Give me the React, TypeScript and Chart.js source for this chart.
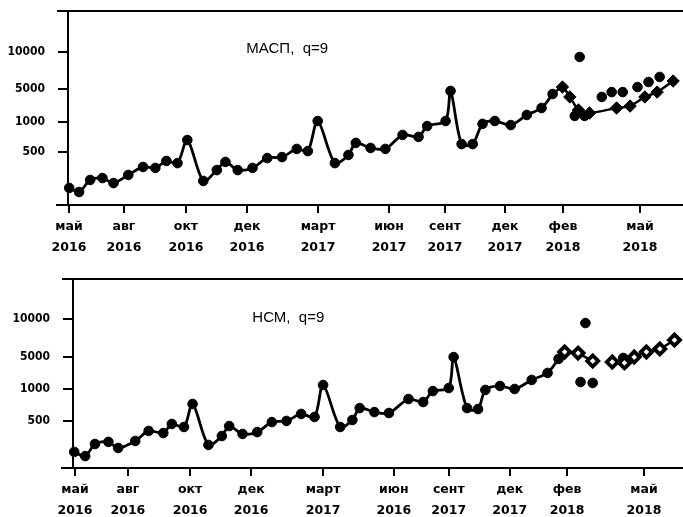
import React, { useEffect, useRef } from "react";
import { Chart, registerables } from "chart.js";

Chart.register(...registerables);

// ---------- axis tick labels ----------
const Y_TICK_LABELS = ["500", "1000", "5000", "10000"];
// positions of the (non-uniform) y tick labels in axis units (0 = x axis, 100 = top frame)
const TOP_Y_TICKS = [27.3, 42.8, 59.8, 78.9];
const BOTTOM_Y_TICKS = [24.9, 41.8, 58.7, 78.8];

const TOP_X_TICKS = [0.08, 4.55, 9.59, 14.55, 20.33, 26.1, 30.65, 35.53, 40.24, 46.5];
const TOP_X_LABELS = [
  ["май", "2016"], ["авг", "2016"], ["окт", "2016"], ["дек", "2016"], ["март", "2017"],
  ["июн", "2017"], ["сент", "2017"], ["дек", "2017"], ["фев", "2018"], ["май", "2018"],
];
const BOTTOM_X_TICKS = [0.16, 4.5, 9.6, 14.6, 20.5, 26.3, 30.8, 35.8, 40.5, 46.8];
const BOTTOM_X_LABELS = [
  ["май", "2016"], ["авг", "2016"], ["окт", "2016"], ["дек", "2016"], ["март", "2017"],
  ["июн", "2016"], ["сент", "2017"], ["дек", "2017"], ["фев", "2018"], ["май", "2018"],
];

const TOP_TITLE = "МАСП,  q=9";
const BOTTOM_TITLE = "НСМ,  q=9";

// ---------- top panel (МАСП) ----------
const TOP_FIT_X = [0.1, 0.9, 1.8, 2.8, 3.7, 4.9, 6.1, 7.1, 8.0, 8.9, 9.7, 11.0, 12.1, 12.8, 13.8, 15.0, 16.2, 17.4, 18.6, 19.5, 20.3, 21.7, 22.8, 23.4, 24.6, 25.8, 27.2, 28.5, 29.2, 30.7, 31.1, 32.0, 32.9, 33.7, 34.7, 36.0, 37.3, 38.5, 39.4];
const TOP_FIT_Y = [8.8, 6.7, 12.9, 13.9, 11.3, 15.5, 19.6, 19.1, 22.7, 21.6, 33.5, 12.4, 18.0, 22.2, 18.0, 19.1, 24.2, 24.7, 28.9, 27.8, 43.3, 21.6, 25.8, 32.0, 29.4, 28.9, 36.1, 35.1, 40.7, 43.3, 58.8, 31.4, 31.4, 41.8, 43.3, 41.2, 46.4, 50.0, 57.2];
const TOP_FORECAST_X = [40.2, 40.8, 41.5, 42.4, 44.6, 45.7, 46.9, 47.9, 49.2];
const TOP_FORECAST_Y = [60.8, 55.7, 49.0, 47.4, 50.0, 51.0, 55.7, 58.2, 63.9];
const TOP_ACTUAL_X = [41.2, 41.6, 42.0, 43.4, 44.2, 45.1, 46.3, 47.2, 48.1];
const TOP_ACTUAL_Y = [45.9, 76.3, 45.9, 55.7, 58.2, 58.2, 60.8, 63.4, 66.0];

// ---------- bottom panel (НСМ) ----------
const BOTTOM_FIT_X = [0.1, 1.0, 1.8, 2.9, 3.7, 5.1, 6.2, 7.4, 8.1, 9.1, 9.8, 11.1, 12.2, 12.8, 13.9, 15.1, 16.3, 17.5, 18.7, 19.8, 20.5, 21.9, 22.9, 23.5, 24.7, 25.9, 27.5, 28.7, 29.5, 30.8, 31.2, 32.3, 33.2, 33.8, 35.0, 36.2, 37.6, 38.9, 39.8];
const BOTTOM_FIT_Y = [8.5, 6.3, 12.7, 13.8, 10.6, 14.3, 19.6, 18.5, 23.3, 21.7, 33.9, 12.2, 16.9, 22.2, 18.0, 19.0, 24.3, 24.9, 28.6, 27.0, 43.9, 21.7, 25.4, 31.7, 29.6, 29.1, 36.5, 34.9, 40.7, 42.3, 58.7, 31.7, 31.2, 41.3, 43.4, 41.8, 46.6, 50.3, 57.7];
const BOTTOM_FORECAST_X = [40.3, 41.4, 42.6, 44.2, 45.2, 46.0, 47.0, 48.1, 49.3];
const BOTTOM_FORECAST_Y = [61.4, 60.8, 56.6, 56.1, 55.6, 58.7, 61.4, 63.0, 67.7];
const BOTTOM_ACTUAL_X = [41.6, 42.0, 42.6, 45.1];
const BOTTOM_ACTUAL_Y = [45.5, 76.7, 45.0, 58.2];

const zip = (xs: number[], ys: number[]) => xs.map((x, i) => ({ x, y: ys[i] }));

interface PanelProps {
  top: number;
  height: number;
  padTop: number;
  yAxisWidth: number;
  xAxisHeight: number;
  yTicks: number[];
  xTicks: number[];
  xLabels: string[][];
  title: string;
  titleX: number;
  titleY: number;
  fitX: number[];
  fitY: number[];
  fcX: number[];
  fcY: number[];
  actX: number[];
  actY: number[];
  hollow: boolean;
  gapAfter: number;
}

function Panel(p: PanelProps) {
  const ref = useRef<HTMLCanvasElement | null>(null);
  useEffect(() => {
    if (!ref.current) return;
    const fit = zip(p.fitX, p.fitY);
    const forecast = [fit[fit.length - 1], ...zip(p.fcX, p.fcY)];
    const actual = zip(p.actX, p.actY);

    const framePlugin = {
      id: "frame",
      afterDraw(chart: any) {
        const { ctx, chartArea } = chart;
        ctx.save();
        ctx.strokeStyle = "#000";
        ctx.lineWidth = 2;
        ctx.beginPath();
        ctx.moveTo(chartArea.left - 11, chartArea.top);
        ctx.lineTo(chartArea.right, chartArea.top);
        ctx.moveTo(chartArea.left - 12, chartArea.bottom);
        ctx.lineTo(chartArea.left, chartArea.bottom);
        ctx.stroke();
        ctx.fillStyle = "#000";
        ctx.font = "15px 'Liberation Sans', Arial, sans-serif";
        ctx.textBaseline = "middle";
        ctx.textAlign = "left";
        const x = chart.scales.x.getPixelForValue(p.titleX);
        const y = chart.scales.y.getPixelForValue(p.titleY);
        ctx.fillText(p.title, x, y);
        ctx.restore();
      },
    };

    const chart = new Chart(ref.current, {
      type: "line",
      data: {
        datasets: [
          {
            data: fit,
            borderColor: "#000",
            backgroundColor: "#000",
            borderWidth: 2.8,
            pointRadius: 4.8,
            pointStyle: "circle",
            pointBorderWidth: 1,
            tension: 0.3,
            clip: false,
          } as any,
          {
            data: forecast,
            borderColor: "#000",
            backgroundColor: p.hollow ? "#fff" : "#000",
            borderWidth: 2.5,
            pointStyle: "rectRot",
            pointRadius: (c: any) => (c.dataIndex === 0 ? 0 : p.hollow ? 5.5 : 6.2),
            pointBorderWidth: p.hollow ? 3.8 : 1,
            tension: 0.2,
            clip: false,
            segment: {
              borderColor: (c: any) => (c.p0DataIndex === p.gapAfter ? "rgba(0,0,0,0)" : "#000"),
            },
          } as any,
          {
            data: actual,
            showLine: false,
            borderColor: "#000",
            backgroundColor: "#000",
            pointRadius: 4.8,
            pointStyle: "circle",
            pointBorderWidth: 1,
            clip: false,
          } as any,
        ],
      },
      options: {
        animation: false,
        responsive: false,
        maintainAspectRatio: false,
        layout: { autoPadding: false, padding: { top: p.padTop, left: 0, right: 0, bottom: 0 } },
        plugins: { legend: { display: false }, tooltip: { enabled: false }, title: { display: false } },
        scales: {
          x: {
            type: "linear",
            min: 0,
            max: 50,
            border: { display: true, color: "#000", width: 2 },
            grid: { display: true, drawOnChartArea: false, drawTicks: true, tickLength: 8, color: "#000", lineWidth: 2 },
            afterBuildTicks: (s: any) => {
              s.ticks = p.xTicks.map((v) => ({ value: v }));
            },
            afterFit: (s: any) => {
              s.height = p.xAxisHeight;
              s.paddingLeft = 0;
              s.paddingRight = 0;
            },
            ticks: {
              autoSkip: false,
              maxRotation: 0,
              minRotation: 0,
              padding: 3,
              color: "#000",
              font: { family: "'DejaVu Sans', sans-serif", size: 12.5, weight: "bold", lineHeight: "21px" } as any,
              callback: (_v: any, i: number) => p.xLabels[i],
            },
          },
          y: {
            type: "linear",
            min: 0,
            max: 100,
            border: { display: true, color: "#000", width: 2 },
            grid: { display: true, drawOnChartArea: false, drawTicks: true, tickLength: 10, color: "#000", lineWidth: 2 },
            afterBuildTicks: (s: any) => {
              s.ticks = p.yTicks.map((v) => ({ value: v }));
            },
            afterFit: (s: any) => {
              s.width = p.yAxisWidth;
              s.paddingTop = 0;
              s.paddingBottom = 0;
            },
            ticks: {
              autoSkip: false,
              padding: 13,
              color: "#000",
              font: { family: "'DejaVu Sans Condensed', 'DejaVu Sans', sans-serif", size: 12, weight: "bold" } as any,
              callback: (_v: any, i: number) => Y_TICK_LABELS[i],
            },
          },
        },
      } as any,
      plugins: [framePlugin],
    });
    return () => chart.destroy();
  }, []);

  return (
    <canvas
      ref={ref}
      width={683}
      height={p.height}
      style={{ position: "absolute", left: 0, top: p.top, width: 683, height: p.height }}
    />
  );
}

export default function App() {
  return (
    <div style={{ position: "absolute", left: 0, top: 0, width: 683, height: 517, background: "#fff", overflow: "hidden" }}>
      <Panel
        top={0}
        height={262}
        padTop={11}
        yAxisWidth={68}
        xAxisHeight={57}
        yTicks={TOP_Y_TICKS}
        xTicks={TOP_X_TICKS}
        xLabels={TOP_X_LABELS}
        title={TOP_TITLE}
        titleX={14.5}
        titleY={80.4}
        fitX={TOP_FIT_X}
        fitY={TOP_FIT_Y}
        fcX={TOP_FORECAST_X}
        fcY={TOP_FORECAST_Y}
        actX={TOP_ACTUAL_X}
        actY={TOP_ACTUAL_Y}
        hollow={false}
        gapAfter={-1}
      />
      <Panel
        top={262}
        height={255}
        padTop={17}
        yAxisWidth={73}
        xAxisHeight={49}
        yTicks={BOTTOM_Y_TICKS}
        xTicks={BOTTOM_X_TICKS}
        xLabels={BOTTOM_X_LABELS}
        title={BOTTOM_TITLE}
        titleX={14.7}
        titleY={79.4}
        fitX={BOTTOM_FIT_X}
        fitY={BOTTOM_FIT_Y}
        fcX={BOTTOM_FORECAST_X}
        fcY={BOTTOM_FORECAST_Y}
        actX={BOTTOM_ACTUAL_X}
        actY={BOTTOM_ACTUAL_Y}
        hollow={true}
        gapAfter={3}
      />
    </div>
  );
}
